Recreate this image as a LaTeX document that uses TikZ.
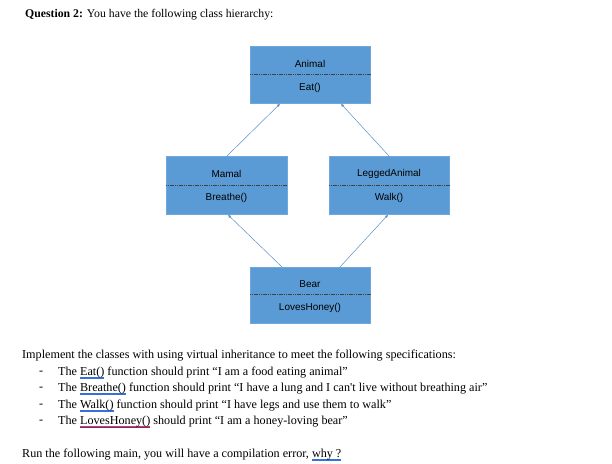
\documentclass[tikz,border=0pt]{standalone}
\usepackage{fontspec}
\setmainfont{Liberation Serif}[Ligatures=TeXOff]
\setsansfont{Liberation Sans}
\usetikzlibrary{arrows.meta}
\definecolor{boxfill}{HTML}{5B9BD5}
\definecolor{boxline}{HTML}{6FA8DC}
\definecolor{arr}{HTML}{5B8FC7}
\definecolor{spellblue}{HTML}{3B6FD8}
\newcommand\gul[1]{\leavevmode\setbox0\hbox{#1}\rlap{\color{spellblue}\rule[-2.8pt]{\wd0}{0.45pt}\hspace{-\wd0}\rule[-1.7pt]{\wd0}{0.45pt}}\box0\relax}
\newcommand\wul[1]{\leavevmode\setbox0\hbox{#1}\rlap{\color{red}\rule[-2.6pt]{\wd0}{0.5pt}\hspace{-\wd0}{\color{spellblue}\rule[-1.8pt]{\wd0}{0.4pt}}}\box0\relax}
\tikzset{
  cls/.style={draw=boxline, fill=boxfill, line width=0.8pt},
  sep/.style={dash pattern=on 1.2pt off 0.6pt, line width=0.6pt, draw=black!75},
  lbl/.style={font=\sffamily\fontsize{10}{12}\selectfont, inner sep=0pt},
  txt/.style={anchor=west, inner sep=0pt, font=\fontsize{12.2}{14}\selectfont},
  inh/.style={draw=arr, line width=0.5pt, -{Latex[length=3pt,width=3pt]}},
}
\begin{document}
\begin{tikzpicture}[x=1bp,y=-1bp]
\useasboundingbox (0,0) rectangle (612,464);
% title
\node[txt, font=\fontsize{11.8}{14}\selectfont] (title) at (25,15) {\textbf{Question 2:} You have the following class hierarchy:};
% boxes
\node[cls, minimum width=120bp, minimum height=57bp, anchor=north west] (animal) at (250,46) {};
\node[cls, minimum width=121bp, minimum height=58bp, anchor=north west] (mamal) at (166,156) {};
\node[cls, minimum width=120bp, minimum height=58bp, anchor=north west] (legged) at (329,156) {};
\node[cls, minimum width=120bp, minimum height=56bp, anchor=north west] (bear) at (250,267) {};
% separators
\draw[sep] (animal.west |- 0,74) coordinate (a1) -- (animal.east |- 0,74) coordinate (a2);
\draw[sep] (mamal.west |- 0,185) coordinate (m1) -- (mamal.east |- 0,185) coordinate (m2);
\draw[sep] (legged.west |- 0,185) coordinate (l1) -- (legged.east |- 0,185) coordinate (l2);
\draw[sep] (bear.west |- 0,294) coordinate (b1) -- (bear.east |- 0,294) coordinate (b2);
% labels
\node[lbl] (animalname) at (310,64) {Animal};
\node[lbl] (animalop) at (310,88) {Eat()};
\node[lbl] (mamalname) at (226.5,174) {Mamal};
\node[lbl] (mamalop) at (226.5,198) {Breathe()};
\node[lbl] (leggedname) at (389,174) {LeggedAnimal};
\node[lbl] (leggedop) at (389,198) {Walk()};
\node[lbl] (bearname) at (310,284) {Bear};
\node[lbl] (bearop) at (310,308) {LovesHoney()};
% arrows
\draw[inh] (mamal.north -| 227,0) -- (animal.south -| 280,0);
\draw[inh] (legged.north -| 389,0) -- (animal.south -| 341,0);
\draw[inh] (bear.north -| 282,0) -- (mamal.south -| 228,0);
\draw[inh] (bear.north -| 340,0) -- (legged.south -| 388,0);
% body text
\node[txt] (l0) at (22,356) {Implement the classes with using virtual inheritance to meet the following specifications:};
\node[txt] (d1) at (39,373) {-};
\node[txt] (t1) at (58,373) {The \gul{Eat()} function should print “I am a food eating animal”};
\node[txt] (d2) at (39,389) {-};
\node[txt] (t2) at (58,389) {The \gul{Breathe()} function should print “I have a lung and I can't live without breathing air”};
\node[txt] (d3) at (39,406) {-};
\node[txt] (t3) at (58,406) {The \gul{Walk()} function should print “I have legs and use them to walk”};
\node[txt] (d4) at (39,422) {-};
\node[txt] (t4) at (58,422) {The \wul{LovesHoney()} should print “I am a honey-loving bear”};
\node[txt] (l5) at (22,455) {Run the following main, you will have a compilation error, \gul{why ?}};
\end{tikzpicture}
\end{document}
